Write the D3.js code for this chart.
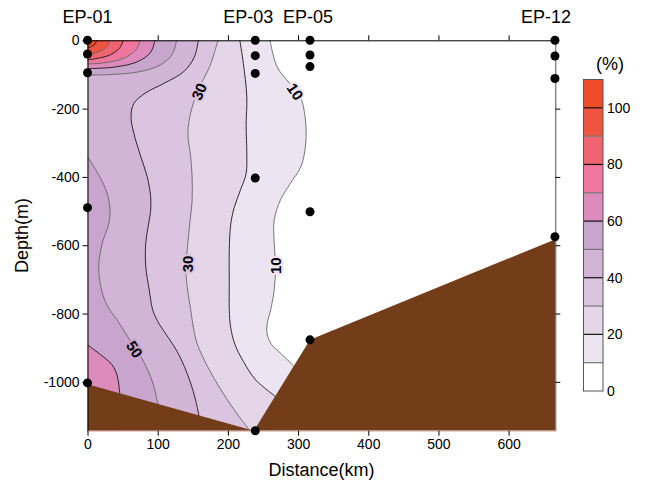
<!DOCTYPE html>
<html>
<head>
<meta charset="utf-8">
<script src="https://cdn.jsdelivr.net/npm/d3@7"></script>
<style>
  body { margin: 0; background: #fff; }
  text { font-family: "Liberation Sans", Arial, sans-serif; }
</style>
</head>
<body>
<svg width="645" height="488"></svg>
<script>
// stations along the section
const stations = ["EP-01", "EP-03", "EP-05", "EP-12"];
const stationKm = [0, 239, 317, 666];
const stationLabelShift = [0, -7, -2, -9];
const sampleDepths = [
  [0, -40, -95, -490, -1003],
  [0, -45, -97, -403, -1143],
  [0, -43, -77, -502, -877],
  [0, -46, -112, -575]
];

// sea floor
const bottomKm = [0, 237, 317, 666];
const bottomDepth = [-1007, -1143, -877, -583];

// colour bands (%)
const levels = [0, 10, 20, 30, 40, 50, 60, 70, 80, 90, 100, 110];
const bandColors = ["#ffffff", "#ede4f1", "#e5d5e8", "#dbc4df", "#d2b4d7", "#c8a5cd",
                    "#dd8bbd", "#ef769d", "#ef6470", "#ee5440", "#f04b27"];
const legendLabels = [0, 20, 40, 60, 80, 100];

const contour10 = [[260,0],[270,-77],[288,-126],[303,-165],[310,-224],[311,-301],[304,-370],[289,-419],
  [275,-467],[266,-526],[266,-594],[268,-663],[266,-731],[261,-789],[256,-830],[256,-860],[262,-890],
  [276,-918],[296,-958]];
const contour20 = [[217,0],[222,-67],[227,-165],[226,-250],[227,-330],[226,-390],[218,-438],[209,-490],
  [204,-540],[202,-614],[202,-711],[202,-789],[204,-840],[210,-890],[222,-940],[240,-995],[270,-1046]];
const contour30 = [[186,0],[174,-77],[160,-136],[148,-204],[143,-272],[147,-341],[149,-399],[149,-470],
  [146,-530],[142,-614],[140,-663],[142,-721],[147,-789],[150,-830],[156,-887],[171,-955],[190,-1023],
  [209,-1082],[231,-1142]];
const contour40 = [[158,0],[152,-50],[137,-92],[110,-125],[82,-155],[66,-185],[62,-225],[66,-272],
  [76,-341],[85,-399],[90,-458],[90,-497],[88,-526],[83,-594],[83,-663],[88,-731],[93,-790],[102,-830],
  [115,-870],[128,-912],[138,-955],[147,-1004],[154,-1053],[159,-1102]];
const contour50a = [[127,0],[121,-40],[104,-72],[74,-92],[35,-100],[0,-102]];
const contour50b = [[0,-341],[16,-394],[28,-448],[32,-497],[30,-540],[21,-594],[16,-663],[20,-731],
  [29,-780],[42,-818],[57,-867],[76,-926],[90,-985],[97,-1033],[101,-1072]];
const contour60a = [[96,0],[90,-35],[72,-62],[40,-78],[0,-83]];
const contour60b = [[0,-892],[19,-921],[35,-950],[42,-980],[45,-1014],[46,-1040]];
const contour70 = [[75,0],[69,-28],[52,-52],[25,-66],[0,-69]];
const contour80 = [[51,0],[46,-22],[33,-42],[14,-53],[0,-57]];
const contour90 = [[32,0],[29,-15],[19,-31],[7,-39],[0,-42]];
const contour100 = [[13,0],[11,-10],[6,-18],[0,-22]];

// contour labels: km, depth, text, angle
const labelKm = [159, 296, 142, 268, 67];
const labelDepth = [-150, -150, -655, -660, -905];
const labelText = ["30", "10", "30", "10", "50"];
const labelAngle = [-67, 55, -90, -90, 57];
const labelBand = [3, 1, 3, 1, 5];

const xTicks = [0, 100, 200, 300, 400, 500, 600];
const yTicks = [0, -200, -400, -600, -800, -1000];

const svg = d3.select("svg");

const x = d3.scaleLinear().domain([0, 666.5]).range([87.5, 555.3]);
const y = d3.scaleLinear().domain([0, -1143]).range([40.3, 430.7]);
const xMax = 666.5, yMin = -1143;

const line = d3.line().x(d => x(d[0])).y(d => y(d[1])).curve(d3.curveCatmullRom.alpha(0.5));
const straight = pts => pts.map(p => `L${x(p[0])},${y(p[1])}`).join("") + "Z";

svg.append("clipPath").attr("id", "plotClip")
  .append("rect")
  .attr("x", x(0)).attr("y", y(0))
  .attr("width", x(xMax) - x(0)).attr("height", y(yMin) - y(0));

const plot = svg.append("g").attr("clip-path", "url(#plotClip)");

plot.append("rect")
  .attr("x", x(0)).attr("y", y(0))
  .attr("width", x(xMax) - x(0)).attr("height", y(yMin) - y(0))
  .attr("fill", bandColors[0]);

// regions >= level, painted from low to high
const regions = [
  {level: 10, pts: contour10, close: [[296, yMin], [0, yMin], [0, 0]]},
  {level: 20, pts: contour20, close: [[270, yMin], [0, yMin], [0, 0]]},
  {level: 30, pts: contour30, close: [[231, yMin], [0, yMin], [0, 0]]},
  {level: 40, pts: contour40, close: [[159, yMin], [0, yMin], [0, 0]]},
  {level: 50, pts: contour50a, close: [[0, 0]]},
  {level: 50, pts: contour50b, close: [[101, yMin], [0, yMin]]},
  {level: 60, pts: contour60a, close: [[0, 0]]},
  {level: 60, pts: contour60b, close: [[46, yMin], [0, yMin]]},
  {level: 70, pts: contour70, close: [[0, 0]]},
  {level: 80, pts: contour80, close: [[0, 0]]},
  {level: 90, pts: contour90, close: [[0, 0]]},
  {level: 100, pts: contour100, close: [[0, 0]]}
];

plot.append("g").selectAll("path")
  .data(regions).enter().append("path")
  .attr("d", d => line(d.pts) + straight(d.close))
  .attr("fill", d => bandColors[d.level / 10]);

plot.append("g").selectAll("path")
  .data(regions).enter().append("path")
  .attr("d", d => line(d.pts))
  .attr("fill", "none")
  .attr("stroke", d => (d.level / 10) % 2 ? "#666" : "#1a1a1a")
  .attr("stroke-width", 0.9);

// contour labels
plot.append("g").selectAll("text")
  .data(labelText).enter().append("text")
  .attr("transform", (d, i) => `translate(${x(labelKm[i])},${y(labelDepth[i])}) rotate(${labelAngle[i]})`)
  .attr("text-anchor", "middle")
  .attr("dy", "0.36em")
  .attr("font-size", 15)
  .attr("font-weight", "bold")
  .attr("fill", "#000")
  .attr("stroke", (d, i) => bandColors[labelBand[i]])
  .attr("stroke-width", 4)
  .attr("paint-order", "stroke")
  .text(d => d);

// sea floor
const floor = bottomKm.map((k, i) => [k, bottomDepth[i]]);
plot.append("path")
  .attr("d", "M" + floor.map(p => `${x(p[0])},${y(p[1])}`).join("L") +
        `L${x(xMax)},${y(bottomDepth[3])}L${x(xMax)},${y(yMin)}L${x(0)},${y(yMin)}Z`)
  .attr("fill", "#743d19");

// axes
const styleAxis = g => {
  g.selectAll("text").attr("font-size", 14).attr("fill", "#000")
    .attr("font-family", "'Liberation Sans', Arial, sans-serif");
  g.selectAll("line").attr("stroke", "#000");
  g.select(".domain").attr("stroke", "#000");
};

svg.append("g")
  .attr("transform", `translate(${x(0)},0)`)
  .call(d3.axisLeft(y).tickValues(yTicks).tickSize(5).tickSizeOuter(0).tickPadding(3)
        .tickFormat(d => String(d)))
  .call(styleAxis);

svg.append("g")
  .attr("transform", `translate(${x(xMax)},0)`)
  .call(d3.axisRight(y).tickValues(yTicks.slice(1)).tickSize(5).tickSizeOuter(0).tickFormat(""))
  .call(styleAxis)
  .select(".domain").attr("stroke", "#555");

svg.append("g")
  .attr("transform", `translate(0,${y(0)})`)
  .call(d3.axisTop(x).tickValues(xTicks.slice(1)).tickSize(5).tickSizeOuter(0).tickFormat(""))
  .call(styleAxis);

const bottomAxis = svg.append("g")
  .attr("transform", `translate(0,${y(yMin)})`)
  .call(d3.axisBottom(x).tickValues(xTicks).tickSize(5).tickSizeOuter(0).tickPadding(3))
  .call(styleAxis);
bottomAxis.select(".domain").attr("stroke", "#d8b4a4");

// axis titles
svg.append("text")
  .attr("x", (x(0) + x(xMax)) / 2).attr("y", 476)
  .attr("text-anchor", "middle").attr("font-size", 18)
  .text("Distance(km)");

svg.append("text")
  .attr("transform", `translate(28,${(y(0) + y(yMin)) / 2}) rotate(-90)`)
  .attr("text-anchor", "middle").attr("font-size", 18)
  .text("Depth(m)");

// station names
svg.append("g").selectAll("text")
  .data(stations).enter().append("text")
  .attr("x", (d, i) => x(stationKm[i]) + stationLabelShift[i])
  .attr("y", 23)
  .attr("text-anchor", "middle")
  .attr("font-size", 18)
  .text(d => d);

// sample points
const samples = [];
sampleDepths.forEach((ds, i) => ds.forEach(dep => samples.push([stationKm[i], dep])));
svg.append("g").selectAll("circle")
  .data(samples).enter().append("circle")
  .attr("cx", d => x(d[0]))
  .attr("cy", d => y(d[1]))
  .attr("r", 4.5)
  .attr("fill", "#000");

// legend
const ly = d3.scaleLinear().domain([0, 110]).range([391, 79.5]);
const legend = svg.append("g");
legend.selectAll("rect")
  .data(bandColors).enter().append("rect")
  .attr("x", 583.5)
  .attr("y", (d, i) => ly(levels[i + 1]))
  .attr("width", 19.5)
  .attr("height", (d, i) => ly(levels[i]) - ly(levels[i + 1]))
  .attr("fill", d => d);

legend.selectAll("line")
  .data(levels.slice(1, -1)).enter().append("line")
  .attr("x1", 583.5).attr("x2", 603)
  .attr("y1", d => ly(d)).attr("y2", d => ly(d))
  .attr("stroke", d => (d / 10) % 2 ? "#777" : "#111")
  .attr("stroke-width", 1.2);

legend.append("rect")
  .attr("x", 583.5).attr("y", ly(110))
  .attr("width", 19.5).attr("height", ly(0) - ly(110))
  .attr("fill", "none").attr("stroke", "#555").attr("stroke-width", 1);

legend.selectAll("text.lab")
  .data(legendLabels).enter().append("text")
  .attr("class", "lab")
  .attr("x", 607)
  .attr("y", d => ly(d))
  .attr("dy", "0.36em")
  .attr("font-size", 14)
  .text(d => d);

legend.append("text")
  .attr("x", 610).attr("y", 70)
  .attr("text-anchor", "middle").attr("font-size", 18)
  .text("(%)");
</script>
</body>
</html>
